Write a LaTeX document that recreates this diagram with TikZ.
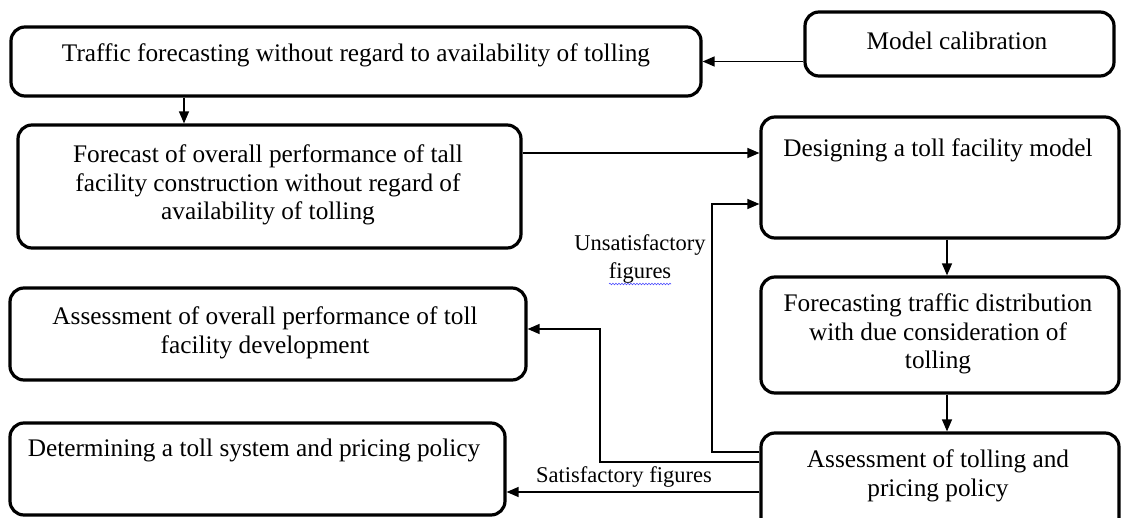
\documentclass[tikz,border=0pt]{standalone}
\usepackage{fontspec}
\setmainfont{Liberation Serif}
\usetikzlibrary{arrows.meta,calc,decorations.pathmorphing}
\begin{document}
\begin{tikzpicture}[x=1pt,y=-1pt,
  box/.style={draw=black, line width=3.2pt, rounded corners=14pt, inner sep=0pt},
  txt/.style={inner sep=0pt, align=center, font=\fontsize{25.3}{28.5}\selectfont},
  lbl/.style={inner sep=0pt, align=center, font=\fontsize{22.5}{27.5}\selectfont},
  conn/.style={line width=1.3pt, -{Triangle[length=12pt,width=10pt]}},
  line/.style={line width=1.3pt}]
\useasboundingbox (0,0) rectangle (1121,518);
% boxes
\node[box, minimum width=690pt, minimum height=69pt] (A) at (356,61.5) {};
\node[box, minimum width=309pt, minimum height=64pt] (MC) at (959.5,44) {};
\node[box, minimum width=503pt, minimum height=123pt] (B) at (269.5,186.5) {};
\node[box, minimum width=358pt, minimum height=121pt] (D) at (940,177.5) {};
\node[box, minimum width=358pt, minimum height=116pt] (E) at (940,335) {};
\node[box, minimum width=358pt, minimum height=100pt] (F) at (940,483) {};
\node[box, minimum width=516pt, minimum height=92pt] (G) at (268,334) {};
\node[box, minimum width=495pt, minimum height=92pt] (H) at (257.5,469) {};
% texts
\node[txt] (tA) at (356,55) {Traffic forecasting without regard to availability of tolling};
\node[txt] (tMC) at (957,41) {Model calibration};
\node[txt] (tB) at (268,185) {Forecast of overall performance of tall\\facility construction without regard of\\availability of tolling};
\node[txt] (tD) at (938,150) {Designing a toll facility model};
\node[txt] (tE) at (938,334) {Forecasting traffic distribution\\with due consideration of\\tolling};
\node[txt] (tF) at (938,476) {Assessment of tolling and\\pricing policy};
\node[txt] (tG) at (265,333) {Assessment of overall performance of toll\\facility development};
\node[txt] (tH) at (254,450) {Determining a toll system and pricing policy};
% helper coordinates
\coordinate (xAB) at (184,0);
\coordinate (xDE) at (947,0);
\coordinate (yBD) at (0,153);
\coordinate (u1) at (0,452);
\coordinate (u2) at (712,204);
\coordinate (g1) at (0,462);
\coordinate (g2) at (600,329);
\coordinate (h1) at (0,492);
% connectors
\draw[conn] (MC.west |- A.east) -- (A.east);
\draw[conn] (A.south -| xAB) -- (B.north -| xAB);
\draw[conn] (B.east |- yBD) -- (D.west |- yBD);
\draw[conn] (D.south -| xDE) -- (E.north -| xDE);
\draw[conn] (E.south -| xDE) -- (F.north -| xDE);
\draw[conn] (F.west |- u1) -| (u2) -- (D.west |- u2);
\draw[conn] (F.west |- g1) -| (g2) -- (G.east |- g2);
\draw[conn] (F.west |- h1) -- (H.east |- h1);
% labels
\node[lbl] (lU) at (640,259) {Unsatisfactory\\figures};
\node[lbl] (lS) at (624,477) {Satisfactory figures};
\draw[blue!70, line width=0.6pt, decorate, decoration={snake, amplitude=0.8pt, segment length=3pt}] (609,284) -- (671,284);
\end{tikzpicture}
\end{document}
